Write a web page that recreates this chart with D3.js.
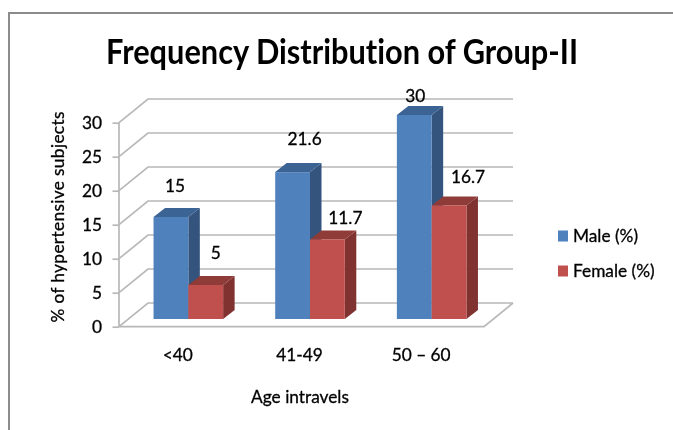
<!DOCTYPE html>
<html>
<head>
<meta charset="utf-8">
<script src="https://cdn.jsdelivr.net/npm/d3@7"></script>
<style>
html,body{margin:0;padding:0;background:#fff;overflow:hidden}
svg{display:block;font-family:Lato,"Open Sans",sans-serif;font-variant-ligatures:none;filter:blur(0.35px)}
.lbl{font-size:17.3px;fill:#000;stroke:#000;stroke-width:0.3px}
</style>
</head>
<body>
<svg id="chart" width="673" height="430"></svg>
<script>
const categories = ["<40", "41-49", "50 – 60"];
const seriesNames = ["Male (%)", "Female (%)"];
const maleValues = [15, 21.6, 30];
const femaleValues = [5, 11.7, 16.7];
const yTicks = [0, 5, 10, 15, 20, 25, 30];
const titleText = "Frequency Distribution of Group-II";
const yTitleText = "% of hypertensive subjects";
const xTitleText = "Age intravels";

const faces = [
  {front:"#4F81BD", side:"#34547D", top:"#3B6394"},
  {front:"#C0504D", side:"#7F3230", top:"#8F3B38"}
];
const series = [maleValues, femaleValues];
// hand-placed data label nudges relative to the bar's top centre
const labelNudge = [
  [[4,-31],[12,-33],[1,-19.5]],
  [[10,-32],[18,-21],[19,-28]]
];

const svg = d3.select("#chart");
const x = d3.scaleBand().domain(categories).range([119, 484]);
const y = d3.scaleLinear().domain([0, 30]).range([326.7, 122.7]);
const wall = {dx: 29, dy: -23.7};
const barDepth = {dx: 11.5, dy: -9};
const barShift = {dx: 8.5, dy: -7.7};
const barW = 34.8;

// frame
svg.append("path").attr("d","M9,430V13H673").attr("fill","none").attr("stroke","#8c8c8c").attr("stroke-width",2);

// title
svg.append("text").attr("x",342).attr("y",64).attr("text-anchor","middle")
  .attr("font-size",33.5).attr("font-weight",700).attr("fill","#000")
  .attr("textLength",472).attr("lengthAdjust","spacingAndGlyphs").text(titleText);

// walls and gridlines
const gridColor = "#b8b8b8";
const grid = svg.append("g").attr("fill","none").attr("stroke",gridColor).attr("stroke-width",1.7);
yTicks.forEach(t=>{
  const p = d3.path();
  p.moveTo(x.range()[0], y(t));
  p.lineTo(x.range()[0]+wall.dx, y(t)+wall.dy);
  p.lineTo(x.range()[1]+wall.dx, y(t)+wall.dy);
  grid.append("path").attr("d",p.toString());
});
const floor = d3.path();
floor.moveTo(x.range()[0], y(0));
floor.lineTo(x.range()[1], y(0));
floor.lineTo(x.range()[1]+wall.dx, y(0)+wall.dy);
grid.append("path").attr("d",floor.toString());
grid.append("line").attr("x1",x.range()[0]).attr("x2",x.range()[0]).attr("y1",y(0)).attr("y2",y(30));

// y axis
const yAxis = svg.append("g").attr("transform",`translate(${x.range()[0]},0)`)
  .call(d3.axisLeft(y).tickValues(yTicks).tickSize(6.5).tickPadding(10.5));
yAxis.select(".domain").remove();
yAxis.selectAll("line").attr("stroke",gridColor).attr("stroke-width",1.7);
yAxis.selectAll("text").attr("class","lbl").attr("font-family","Lato").attr("dy","0.36em");

// x axis
const xAxis = svg.append("g").attr("transform",`translate(-2,${y(0)+22})`)
  .call(d3.axisBottom(x).tickSize(0).tickPadding(0));
xAxis.select(".domain").remove();
xAxis.selectAll("text").attr("class","lbl").attr("font-family","Lato");

// bars
categories.forEach((c,i)=>{
  const cx = x(c)+x.bandwidth()/2+barShift.dx;
  series.forEach((vals,s)=>{
    const v = vals[i];
    const x0 = cx + (s-1)*barW;
    const x1 = x0 + barW;
    const yTop = y(v)+barShift.dy;
    const yBase = y(0)+barShift.dy;
    const g = svg.append("g");
    const poly = pts=>pts.map(p=>p.join(",")).join(" ");
    g.append("polygon").attr("fill",faces[s].side).attr("points",poly([
      [x1,yTop],[x1+barDepth.dx,yTop+barDepth.dy],[x1+barDepth.dx,yBase+barDepth.dy],[x1,yBase]]));
    g.append("polygon").attr("fill",faces[s].top).attr("points",poly([
      [x0,yTop],[x0+barDepth.dx,yTop+barDepth.dy],[x1+barDepth.dx,yTop+barDepth.dy],[x1,yTop]]));
    g.append("rect").attr("x",x0).attr("y",yTop).attr("width",barW).attr("height",yBase-yTop).attr("fill",faces[s].front);
  });
});

// data labels
categories.forEach((c,i)=>{
  const cx = x(c)+x.bandwidth()/2+barShift.dx;
  series.forEach((vals,s)=>{
    const v = vals[i];
    const n = labelNudge[s][i];
    svg.append("text").attr("class","lbl").attr("x",cx+(s-0.5)*barW+n[0]).attr("y",y(v)+barShift.dy+n[1])
      .attr("dy","0.35em").attr("text-anchor","middle").text(v);
  });
});

// axis titles
svg.append("text").attr("class","lbl").attr("x",300).attr("y",397).attr("dy","0.35em").attr("text-anchor","middle").text(xTitleText);
svg.append("text").attr("class","lbl").attr("transform","translate(58,217) rotate(-90)").attr("dy","0.35em").attr("text-anchor","middle").attr("textLength",211).text(yTitleText);

// legend
const legendY = d3.scalePoint().domain(seriesNames).range([236,271]);
seriesNames.forEach((n,s)=>{
  svg.append("rect").attr("x",558).attr("y",legendY(n)-5.5).attr("width",10).attr("height",11).attr("fill",faces[s].front);
  svg.append("text").attr("class","lbl").attr("x",573).attr("y",legendY(n)).attr("dy","0.35em").text(n);
});
</script>
</body>
</html>
